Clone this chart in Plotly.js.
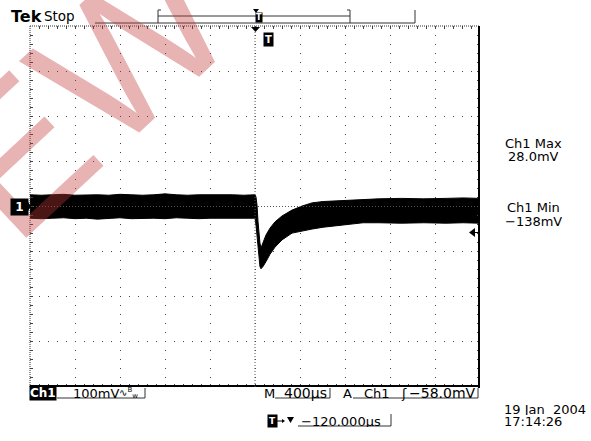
<!DOCTYPE html>
<html>
<head>
<meta charset="utf-8">
<script src="https://cdn.plot.ly/plotly-3.0.1.min.js"></script>
<style>
html,body{margin:0;padding:0;background:#fff;}
#chart{width:591px;height:441px;}
</style>
</head>
<body>
<div id="chart"></div>
<script>
// ---- data (time in microseconds, envelope of the noisy Ch1 trace in mV) ----
const timeUs = [-2000,-1900,-1800,-1700,-1600,-1500,-1400,-1300,-1200,-1100,-1000,-900,-800,-700,-600,-500,-400,-300,-200,-100,-10,
  0,9,18,27,36,44,53,71,98,133,178,240,329,418,507,604,800,960,1100,1300,1500,1700,1850,2000];
const upperMv = [26,25,26,27,25,26,26,25,27,26,25,26,28,26,25,26,26,27,26,25,26,
  26,21,3,-34,-63,-81,-92,-81,-63,-48,-34,-21,-8,1,8,11,14,16,17,18,17,18,19,18];
const lowerMv = [-26,-27,-26,-25,-27,-26,-28,-26,-25,-27,-26,-26,-27,-25,-26,-27,-26,-26,-27,-26,-26,
  -26,-41,-63,-92,-117,-133,-138,-133,-122,-106,-90,-74,-59,-54,-50,-46,-40,-36,-36,-37,-36,-37,-36,-37];

const timeRangeUs = [-2000, 2000];   // 10 div x 400 us
const voltRangeMv = [-400, 400];     // 8 div x 100 mV

const headerLeft = 'Tek';
const headerState = 'Stop';
const ch1MaxLabel = 'Ch1 Max';
const ch1MaxValue = '28.0mV';
const ch1MinLabel = 'Ch1 Min';
const ch1MinValue = '\u2212138mV';
const chLabel = 'Ch1';
const chScale = '100mV';
const timeBase = '400\u00b5s';
const trigText = 'Ch1';
const trigSlope = '\u0283';
const trigLevel = '\u221258.0mV';
const dateText = '19 Jan  2004';
const timeText = '17:14:26';
const horizPos = '\u2212120.000\u00b5s';

// ---- layout helpers (pixel -> paper) ----
const L = 30, R = 480, T = 26, B = 387;
const X = px => (px - L) / (R - L);
const Y = py => (B - py) / (B - T);
const FONT = 'DejaVu Sans, Liberation Sans, sans-serif';

function seg(x0, y0, x1, y1, opt) {
  return Object.assign({type:'line', xref:'paper', yref:'paper', x0:X(x0), y0:Y(y0), x1:X(x1), y1:Y(y1),
    line:{color:'#222', width:1}}, opt || {});
}
function poly(pts, color) {
  const d = pts.map((p, i) => (i ? 'L' : 'M') + X(p[0]) + ',' + Y(p[1])).join(' ') + ' Z';
  return {type:'path', xref:'paper', yref:'paper', path:d, fillcolor:color || '#000', line:{width:0}};
}
function txt(s, px, py, opt) {
  return Object.assign({text:s, xref:'paper', yref:'paper', x:X(px), y:Y(py), xanchor:'left', yanchor:'middle',
    showarrow:false, font:{family:FONT, size:13, color:'#000'}, borderpad:0}, opt || {});
}

const traces = [
  {x:timeUs, y:upperMv, type:'scatter', mode:'lines', line:{color:'#000', width:1}, hoverinfo:'skip', showlegend:false},
  {x:timeUs, y:lowerMv, type:'scatter', mode:'lines', line:{color:'#000', width:1}, fill:'tonexty', fillcolor:'#000', hoverinfo:'skip', showlegend:false}
];

const axCommon = {showticklabels:false, zeroline:false, showline:false, fixedrange:true};
const layout = {
  width:591, height:441,
  margin:{l:L, r:591-R, t:T, b:441-B, pad:0},
  paper_bgcolor:'#fff', plot_bgcolor:'#fff',
  showlegend:false,
  xaxis: Object.assign({}, axCommon, {range:timeRangeUs, dtick:400, tick0:0, showgrid:true, gridcolor:'#444', gridwidth:1, griddash:'1px,8px',
    ticks:'inside', ticklen:3, tickcolor:'#444', tickwidth:1, mirror:'ticks',
    minor:{dtick:80, tick0:0, ticks:'inside', ticklen:3, tickcolor:'#444', tickwidth:1, showgrid:false}}),
  yaxis: Object.assign({}, axCommon, {range:voltRangeMv, dtick:100, tick0:0, showgrid:true, gridcolor:'#444', gridwidth:1, griddash:'1px,8px',
    ticks:'inside', ticklen:3, tickcolor:'#444', tickwidth:1, mirror:'ticks',
    minor:{dtick:20, tick0:0, ticks:'inside', ticklen:3, tickcolor:'#444', tickwidth:1, showgrid:false}}),
  xaxis2: Object.assign({}, axCommon, {range:timeRangeUs, overlaying:'x', anchor:'free', position:0.5, side:'bottom', showgrid:false,
    dtick:80, tick0:0, ticks:'outside', ticklen:2, tickcolor:'#444'}),
  xaxis3: Object.assign({}, axCommon, {range:timeRangeUs, overlaying:'x', anchor:'free', position:0.5, side:'top', showgrid:false,
    dtick:80, tick0:0, ticks:'outside', ticklen:2, tickcolor:'#444'}),
  yaxis2: Object.assign({}, axCommon, {range:voltRangeMv, overlaying:'y', anchor:'free', position:0.5, side:'left', showgrid:false,
    dtick:20, tick0:0, ticks:'outside', ticklen:2, tickcolor:'#444'}),
  yaxis3: Object.assign({}, axCommon, {range:voltRangeMv, overlaying:'y', anchor:'free', position:0.5, side:'right', showgrid:false,
    dtick:20, tick0:0, ticks:'outside', ticklen:2, tickcolor:'#444'}),
  shapes: [
    // graticule frame
    seg(30, 26, 480, 26, {line:{color:'#333', width:1, dash:'1px,1px'}}),
    seg(30, 26, 30, 387, {line:{color:'#333', width:1, dash:'1px,1px'}}),
    seg(479, 26, 479, 388, {line:{color:'#000', width:2}}),
    seg(30, 386, 480, 386, {line:{color:'#000', width:2}}),
    // centre crosshair
    seg(30, 206.5, 480, 206.5, {line:{color:'#555', width:1, dash:'1px,2px'}}),
    seg(255, 26, 255, 387, {line:{color:'#555', width:1, dash:'1px,2px'}}),
    // record-length bar
    seg(95, 23, 415, 23, {line:{color:'#333', width:1}}),
    seg(158, 16, 350, 16, {line:{color:'#333', width:1}}),
    seg(158, 10, 158, 23, {line:{color:'#333', width:1}}),
    seg(158, 10, 161, 10, {line:{color:'#333', width:1}}),
    seg(350, 10, 350, 23, {line:{color:'#333', width:1}}),
    seg(347, 10, 350, 10, {line:{color:'#333', width:1}}),
    seg(415, 10, 415, 23, {line:{color:'#333', width:1}}),
    poly([[253,9],[259,9],[256,13]]),
    // trigger position marker under top edge
    poly([[251,27],[260,27],[255.5,32]]),
    // ch1 ground marker pointer
    poly([[26,199],[31,206.5],[26,214]]),
    // trigger level marker on right
    poly([[469,232.5],[475,228],[475,237]]),
    seg(475, 232.5, 478, 232.5, {line:{color:'#000', width:1}}),
    // bottom readout boxes
    seg(57, 398, 145, 398, {line:{color:'#333', width:1}}),
    seg(145, 388, 145, 398, {line:{color:'#333', width:1}}),
    seg(275, 398, 330, 398, {line:{color:'#333', width:1}}),
    seg(330, 388, 330, 398, {line:{color:'#333', width:1}}),
    seg(353, 398, 478, 398, {line:{color:'#333', width:1}}),
    seg(478, 388, 478, 398, {line:{color:'#333', width:1}}),
    seg(298, 426, 391, 426, {line:{color:'#333', width:1}}),
    seg(391, 414, 391, 426, {line:{color:'#333', width:1}}),
    // arrow in horizontal position readout
    seg(277, 421, 283, 421, {line:{color:'#000', width:1}}),
    poly([[282,419],[285,421],[282,423]]),
    poly([[287,417],[294,417],[290.5,423]])
  ],
  annotations: [
    // watermark
    {text:'EW', xref:'paper', yref:'paper', x:X(83), y:Y(92), xanchor:'center', yanchor:'middle', showarrow:false,
      textangle:-43, font:{family:'Liberation Sans, Arial, sans-serif', size:195, color:'rgba(195,55,55,0.38)'}},
    txt(headerLeft, 10, 16, {font:{family:FONT, size:16, color:'#000', weight:'bold'}}),
    txt(headerState, 43, 16, {font:{family:FONT, size:13.5, color:'#000'}}),
    // T icons
    txt('T', 263, 40, {font:{family:FONT, size:10, color:'#fff', weight:'bold'}, bgcolor:'#000', borderpad:1}),
    txt('T', 255, 18, {font:{family:FONT, size:8, color:'#fff', weight:'bold'}, bgcolor:'#000', borderpad:0}),
    txt('T', 267, 420.5, {font:{family:FONT, size:9, color:'#fff', weight:'bold'}, bgcolor:'#000', borderpad:1}),
    // ch1 ground marker
    txt('1', 10, 206.5, {font:{family:FONT, size:12, color:'#fff', weight:'bold'}, bgcolor:'#000', borderpad:1, width:15}),
    // measurements
    txt(ch1MaxLabel, 533, 143, {xanchor:'center', height:12}),
    txt(ch1MaxValue, 533, 156, {xanchor:'center', height:12}),
    txt(ch1MinLabel, 533, 207, {xanchor:'center', height:12}),
    txt(ch1MinValue, 533, 220.5, {xanchor:'center', height:12}),
    // bottom readouts
    txt(chLabel, 29, 393, {font:{family:FONT, size:12, color:'#fff', weight:'bold'}, bgcolor:'#000', borderpad:0}),
    txt(chScale, 72, 393),
    txt('\u223f<sup>B</sup><sub>w</sub>', 118, 393, {font:{family:FONT, size:10, color:'#000'}}),
    txt('M', 263, 393),
    txt(timeBase, 283, 393, {font:{family:FONT, size:14, color:'#000'}}),
    txt('A', 342, 393),
    txt(trigText, 363, 393),
    txt(trigSlope, 400, 393),
    txt(trigLevel, 477, 393, {xanchor:'right', font:{family:FONT, size:14, color:'#000'}}),
    txt(dateText, 503, 409, {height:12}),
    txt(timeText, 503, 421, {height:12}),
    txt(horizPos, 300, 420.5, {height:12})
  ]
};

Plotly.newPlot('chart', traces, layout, {staticPlot:true, displayModeBar:false});
</script>
</body>
</html>
